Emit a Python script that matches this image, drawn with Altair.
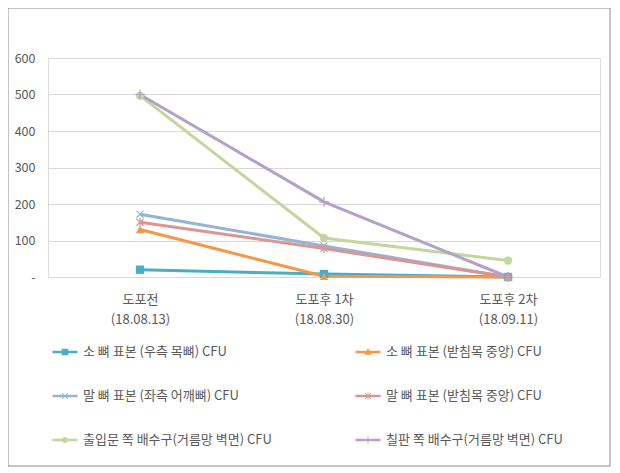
import altair as alt
import pandas as pd

categories = ["도포전\n(18.08.13)", "도포후 1차\n(18.08.30)", "도포후 2차\n(18.09.11)"]
series_names = [
    "소 뼈 표본 (우측 목뼈) CFU",
    "소 뼈 표본 (받침목 중앙) CFU",
    "말 뼈 표본 (좌측 어깨뼈) CFU",
    "말 뼈 표본 (받침목 중앙) CFU",
    "출입문 쪽 배수구(거름망 벽면) CFU",
    "칠판 쪽 배수구(거름망 벽면) CFU",
]
cow_neck = [20, 8, 0]
cow_support = [130, 2, 0]
horse_shoulder = [172, 85, 0]
horse_support = [150, 78, 0]
door_drain = [497, 107, 45]
board_drain = [500, 206, 0]
colors = ["#4BACC6", "#F79646", "#95B3D7", "#D99694", "#C3D69B", "#B3A2C7"]

all_values = [cow_neck, cow_support, horse_shoulder, horse_support, door_drain, board_drain]
rows = []
for i, (name, vals) in enumerate(zip(series_names, all_values)):
    for j, (cat, v) in enumerate(zip(categories, vals)):
        rows.append({"series": name, "legend_series": name, "cat": cat, "value": v, "order": i})
df = pd.DataFrame(rows)

# marker shapes in the plot
plot_shapes = [
    "square",
    "triangle-up",
    "M-1,-1L1,1M1,-1L-1,1",
    "M-1,-1L1,1M1,-1L-1,1M0,-1.3L0,1.3",
    "circle",
    "M0,-1.4L0,1.4M-1.4,0L1.4,0",
]

# legend symbols: line + marker (unit coordinates)
LINE = "M-1,-0.1H1V0.1H-1Z"
legend_shapes = [
    LINE + "M-0.26,-0.26H0.26V0.26H-0.26Z",
    LINE + "M0,-0.3L0.28,0.22H-0.28Z",
    LINE + "M-0.25,-0.2L-0.2,-0.25L0.25,0.2L0.2,0.25Z M0.2,-0.25L0.25,-0.2L-0.2,0.25L-0.25,0.2Z",
    LINE + "M-0.25,-0.2L-0.2,-0.25L0.25,0.2L0.2,0.25Z M0.2,-0.25L0.25,-0.2L-0.2,0.25L-0.25,0.2Z M-0.03,-0.3H0.03V0.3H-0.03Z",
    LINE + "M0.24,0A0.24,0.24 0 1,1 -0.24,0A0.24,0.24 0 1,1 0.24,0Z",
    LINE + "M-0.03,-0.3H0.03V0.3H-0.03Z",
]

FONT = "Noto Sans CJK KR"
TXT = "#595959"

x_enc = alt.X("cat:N", sort=categories, scale=alt.Scale(type="point", padding=0.5),
              axis=alt.Axis(title=None, labelExpr="split(datum.label, '\\n')", labelAngle=0,
                            labelLineHeight=20, labelPadding=16, domain=False, ticks=False,
                            labelFont=FONT, labelFontSize=13, labelColor=TXT))
y_enc = alt.Y("value:Q", scale=alt.Scale(domain=[0, 600]),
              axis=alt.Axis(title=None, values=[0, 100, 200, 300, 400, 500, 600],
                            labelExpr="datum.value == 0 ? '-' : datum.label",
                            domain=False, ticks=False, labelPadding=13,
                            gridColor="#d9d9d9", gridWidth=1,
                            labelFont=FONT, labelFontSize=12.5, labelColor=TXT))

color_scale = alt.Scale(domain=series_names, range=colors)

base = alt.Chart(df)

lines = base.mark_line(strokeWidth=3).encode(
    x=x_enc, y=y_enc,
    color=alt.Color("series:N", scale=color_scale, legend=None),
    order=alt.Order("order:Q"),
)

filled_names = [series_names[i] for i in (0, 1, 4)]
stroked_names = [series_names[i] for i in (2, 3, 5)]

pts_filled = base.mark_point(filled=True, size=70, opacity=1).encode(
    x=x_enc, y=y_enc,
    color=alt.Color("series:N", scale=color_scale, legend=None),
    shape=alt.Shape("series:N", scale=alt.Scale(domain=series_names, range=plot_shapes), legend=None),
).transform_filter(alt.FieldOneOfPredicate(field="series", oneOf=filled_names))

pts_stroked = base.mark_point(filled=False, size=50, strokeWidth=1.2, opacity=1).encode(
    x=x_enc, y=y_enc,
    color=alt.Color("series:N", scale=color_scale, legend=None),
    shape=alt.Shape("series:N", scale=alt.Scale(domain=series_names, range=plot_shapes), legend=None),
).transform_filter(alt.FieldOneOfPredicate(field="series", oneOf=stroked_names))

legend_layer = base.mark_point(filled=True, opacity=1).encode(
    color=alt.Color("legend_series:N", scale=alt.Scale(domain=series_names, range=colors),
                    legend=alt.Legend(title=None, orient="none", legendX=4, legendY=281,
                                      direction="horizontal",
                                      columns=2, columnPadding=83, rowPadding=24,
                                      symbolSize=625, symbolStrokeWidth=0.3,
                                      labelFont=FONT, labelFontSize=13, labelColor=TXT,
                                      labelOffset=5, padding=0, labelLimit=400)),
    shape=alt.Shape("legend_series:N", scale=alt.Scale(domain=series_names, range=legend_shapes)),
).transform_filter("false")

frame = alt.Chart(alt.Data(values=[{"a": 1}])).mark_rect(fill=None, stroke="#8c8c8c", strokeWidth=1).encode(
    x=alt.value(-40), x2=alt.value(562), y=alt.value(-50), y2=alt.value(408)
)

chart = alt.layer(frame, lines, pts_filled, pts_stroked, legend_layer).resolve_scale(
    color="independent", shape="independent"
).properties(
    width=552, height=219,
    autosize=alt.AutoSizeParams(type="none"),
    padding={"left": 40, "top": 50, "right": 12, "bottom": 190},
).configure_view(stroke=None).configure(background="white")

chart.save("out.html", embed_options={"renderer": "svg", "actions": False})
